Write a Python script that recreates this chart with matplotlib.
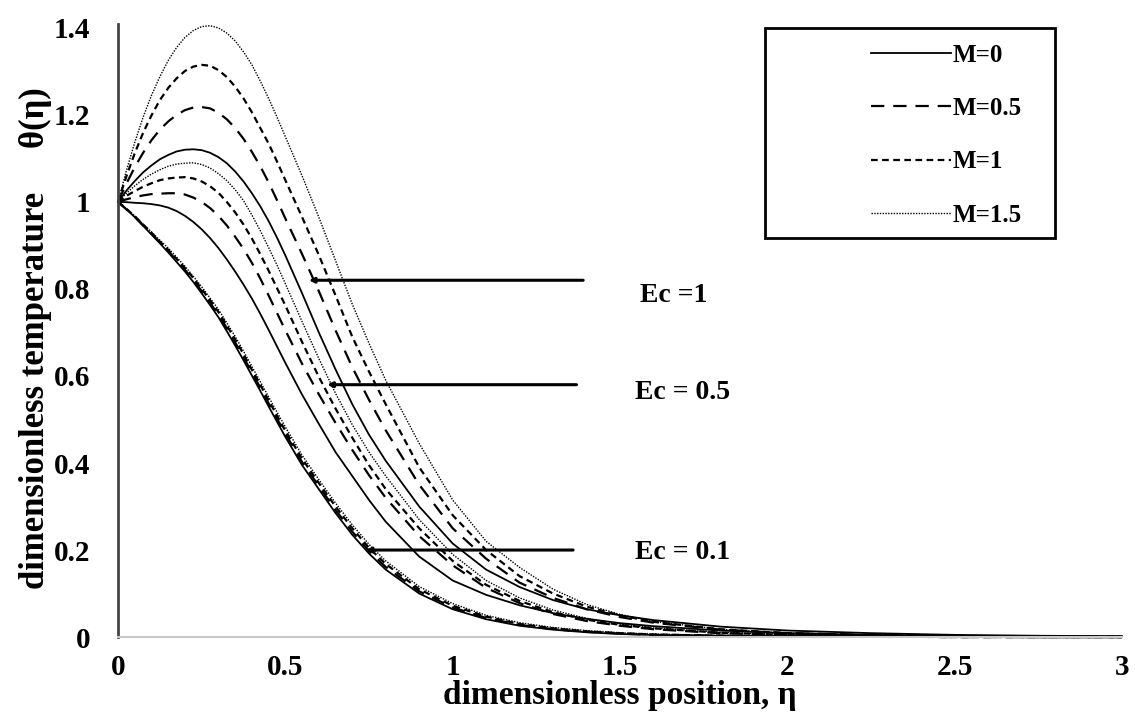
import numpy as np
import matplotlib
matplotlib.use("Agg")
import matplotlib.pyplot as plt
from matplotlib.patches import Rectangle

plt.rcParams['font.family'] = ['Liberation Serif', 'DejaVu Serif']
plt.rcParams['font.weight'] = 'bold'

# eta positions shared by all curves
eta = [0, 0.025, 0.05, 0.075, 0.1, 0.125, 0.15, 0.175, 0.2, 0.225, 0.25, 0.275, 0.3, 0.325, 0.35, 0.375,
       0.4, 0.425, 0.45, 0.475, 0.5, 0.55, 0.6, 0.65, 0.7, 0.75, 0.8,
       0.9, 1.0, 1.1, 1.2, 1.3, 1.4, 1.5, 1.6, 1.8, 2.0, 2.25, 2.5, 2.75, 3.0]

# Ec = 1
ec1_m0 = [1, 1.026, 1.048, 1.068, 1.084, 1.098, 1.108, 1.116, 1.12, 1.121, 1.119, 1.113, 1.103, 1.089, 1.07, 1.047,
          1.02, 0.99, 0.956, 0.918, 0.877, 0.79, 0.70, 0.615, 0.535, 0.465, 0.405,
          0.3, 0.215, 0.155, 0.115, 0.085, 0.064, 0.05, 0.039, 0.024, 0.015, 0.009, 0.005, 0.003, 0.002]
ec1_m05 = [1, 1.042, 1.08, 1.113, 1.142, 1.166, 1.185, 1.2, 1.211, 1.217, 1.218, 1.215, 1.205, 1.19, 1.17, 1.145,
           1.115, 1.082, 1.045, 1.004, 0.962, 0.88, 0.795, 0.705, 0.62, 0.545, 0.475,
           0.35, 0.25, 0.18, 0.125, 0.09, 0.064, 0.046, 0.033, 0.017, 0.009, 0.005, 0.003, 0.001, 0.001]
ec1_m1 = [1, 1.059, 1.112, 1.159, 1.199, 1.234, 1.262, 1.284, 1.301, 1.311, 1.315, 1.313, 1.303, 1.287, 1.265, 1.238,
          1.206, 1.17, 1.134, 1.093, 1.05, 0.965, 0.878, 0.785, 0.69, 0.61, 0.535,
          0.39, 0.28, 0.2, 0.14, 0.1, 0.07, 0.05, 0.035, 0.018, 0.009, 0.004, 0.002, 0.001, 0.0]
ec1_m15 = [1, 1.072, 1.137, 1.195, 1.245, 1.288, 1.325, 1.355, 1.378, 1.394, 1.403, 1.405, 1.40, 1.388, 1.37, 1.345,
           1.315, 1.278, 1.238, 1.195, 1.15, 1.06, 0.965, 0.865, 0.765, 0.675, 0.59,
           0.445, 0.315, 0.22, 0.16, 0.11, 0.075, 0.052, 0.036, 0.018, 0.009, 0.004, 0.002, 0.001, 0.0]

# Ec = 0.5
ec05_m0 = [1, 0.9995, 0.998, 0.997, 0.995, 0.992, 0.987, 0.979, 0.968, 0.954, 0.937, 0.917, 0.894, 0.868, 0.84, 0.81,
           0.778, 0.743, 0.706, 0.668, 0.63, 0.557, 0.49, 0.425, 0.37, 0.315, 0.265,
           0.185, 0.13, 0.097, 0.073, 0.055, 0.042, 0.032, 0.025, 0.015, 0.009, 0.005, 0.003, 0.002, 0.001]
ec05_m05 = [1, 1.006, 1.011, 1.015, 1.018, 1.019, 1.02, 1.02, 1.017, 1.01, 1.0, 0.986, 0.968, 0.946, 0.92, 0.892,
            0.86, 0.824, 0.785, 0.745, 0.705, 0.628, 0.558, 0.492, 0.43, 0.372, 0.32,
            0.232, 0.165, 0.113, 0.078, 0.053, 0.037, 0.026, 0.018, 0.009, 0.005, 0.002, 0.001, 0.0, 0.0]
ec05_m1 = [1, 1.014, 1.025, 1.035, 1.043, 1.05, 1.054, 1.056, 1.057, 1.054, 1.047, 1.036, 1.021, 1.0, 0.976, 0.948,
           0.916, 0.88, 0.842, 0.802, 0.762, 0.678, 0.598, 0.525, 0.458, 0.395, 0.34,
           0.25, 0.175, 0.12, 0.083, 0.057, 0.04, 0.028, 0.02, 0.01, 0.005, 0.002, 0.001, 0.0, 0.0]
ec05_m15 = [1, 1.02, 1.037, 1.052, 1.064, 1.074, 1.082, 1.087, 1.089, 1.09, 1.086, 1.078, 1.065, 1.049, 1.028, 1.003,
            0.97, 0.934, 0.895, 0.855, 0.812, 0.725, 0.64, 0.56, 0.488, 0.425, 0.37,
            0.27, 0.19, 0.13, 0.09, 0.062, 0.043, 0.03, 0.021, 0.011, 0.006, 0.003, 0.001, 0.0, 0.0]

# Ec = 0.1
ec01_m0 = [1, 0.983, 0.965, 0.945, 0.925, 0.905, 0.884, 0.862, 0.84, 0.816, 0.79, 0.763, 0.735, 0.703, 0.67, 0.636,
           0.601, 0.566, 0.53, 0.495, 0.46, 0.395, 0.34, 0.285, 0.235, 0.192, 0.155,
           0.1, 0.064, 0.041, 0.026, 0.017, 0.011, 0.007, 0.005, 0.003, 0.002, 0.001, 0.0, 0.0, 0.0]
ec01_m05 = [1, 0.983, 0.966, 0.946, 0.927, 0.907, 0.887, 0.866, 0.844, 0.82, 0.795, 0.768, 0.741, 0.71, 0.677, 0.643,
            0.608, 0.573, 0.537, 0.502, 0.467, 0.402, 0.347, 0.292, 0.242, 0.198, 0.161,
            0.105, 0.068, 0.044, 0.028, 0.018, 0.012, 0.008, 0.005, 0.003, 0.002, 0.001, 0.0, 0.0, 0.0]
ec01_m1 = [1, 0.984, 0.967, 0.948, 0.929, 0.909, 0.89, 0.869, 0.848, 0.825, 0.8, 0.774, 0.747, 0.716, 0.684, 0.65,
           0.614, 0.58, 0.544, 0.509, 0.474, 0.41, 0.354, 0.3, 0.25, 0.205, 0.168,
           0.11, 0.072, 0.047, 0.03, 0.02, 0.013, 0.009, 0.006, 0.003, 0.002, 0.001, 0.0, 0.0, 0.0]
ec01_m15 = [1, 0.984, 0.968, 0.949, 0.931, 0.912, 0.894, 0.873, 0.852, 0.829, 0.805, 0.779, 0.753, 0.722, 0.691, 0.657,
            0.622, 0.587, 0.552, 0.517, 0.483, 0.418, 0.362, 0.308, 0.258, 0.213, 0.175,
            0.116, 0.077, 0.05, 0.033, 0.022, 0.015, 0.01, 0.007, 0.004, 0.002, 0.001, 0.0, 0.0, 0.0]

m_labels = ["M=0", "M=0.5", "M=1", "M=1.5"]
styles = ['-', (0, (6, 4)), (0, (3, 2)), (0, (1, 1))]
widths = [1.3, 1.6, 1.6, 1.0]

groups = [
    [ec01_m0, ec01_m05, ec01_m1, ec01_m15],
    [ec05_m0, ec05_m05, ec05_m1, ec05_m15],
    [ec1_m0, ec1_m05, ec1_m1, ec1_m15],
]

fig = plt.figure(figsize=(11.35, 7.15), dpi=100)
ax = fig.add_axes([0.104, 0.109, 0.8845, 0.852])

handles = []
for gi, g in enumerate(groups):
    for k, y in enumerate(g):
        ln, = ax.plot(eta, y, color='black', linestyle=styles[k], linewidth=widths[k], clip_on=False)
        if gi == 2:
            handles.append(ln)

# pointer lines with labels
ptr_y = [0.82, 0.58, 0.2]
ptr_start = [0.57, 0.625, 0.74]
ptr_end = [1.39, 1.37, 1.36]
ptr_text = ["Ec =1", "Ec = 0.5", "Ec = 0.1"]
ptr_tx = [1.56, 1.545, 1.545]
ptr_ty = [0.786, 0.561, 0.195]
for py, ps, pe, t, tx, ty in zip(ptr_y, ptr_start, ptr_end, ptr_text, ptr_tx, ptr_ty):
    ax.annotate('', xy=(ps, py), xytext=(pe, py),
                arrowprops=dict(arrowstyle='-|>', color='black', lw=2.2, mutation_scale=7,
                                shrinkA=0, shrinkB=0))
    ax.text(tx, ty, t, fontsize=20, fontweight='bold', ha='left', va='center')

ax.set_xlim(0, 3)
ax.set_ylim(0, 1.4)
ax.set_xticks([0, 0.5, 1, 1.5, 2, 2.5, 3])
ax.set_xticklabels(["0", "0.5", "1", "1.5", "2", "2.5", "3"])
ax.set_yticks([0, 0.2, 0.4, 0.6, 0.8, 1, 1.2, 1.4])
ax.set_yticklabels(["0", "0.2", "0.4", "0.6", "0.8", "1", "1.2", "1.4"])
ax.tick_params(length=0, labelsize=21)
ax.tick_params(axis='x', pad=12)
ax.tick_params(axis='y', pad=20)
for lab in ax.get_xticklabels() + ax.get_yticklabels():
    lab.set_fontweight('bold')

ax.spines['top'].set_visible(False)
ax.spines['right'].set_visible(False)
ax.spines['left'].set_color('#444444')
ax.spines['left'].set_linewidth(2)
ax.spines['left'].set_bounds(0, 1.41)
ax.spines['bottom'].set_color('#c8c8c8')
ax.spines['bottom'].set_linewidth(1.5)

ax.set_xlabel("dimensionless position, η", fontsize=24, fontweight='bold')
ax.set_ylabel("dimensionless temperature     θ(η)", fontsize=25, fontweight='bold')
ax.xaxis.set_label_coords(0.5, -0.07)
ax.yaxis.set_label_coords(-0.066, 0.49)

# legend box
fig.patches.append(Rectangle((765 / 1135, 1 - 238 / 715), 290 / 1135, 210 / 715,
                             transform=fig.transFigure, fill=False, edgecolor='black', linewidth=2))
leg = fig.legend(handles, m_labels, loc='upper left', bbox_to_anchor=(848 / 1135, 1 - 21 / 715),
                 frameon=False, fontsize=18, handlelength=3.2, handletextpad=0.1, labelspacing=1.22)
for t in leg.get_texts():
    t.set_fontweight('bold')

fig.savefig("out.png", dpi=100)
